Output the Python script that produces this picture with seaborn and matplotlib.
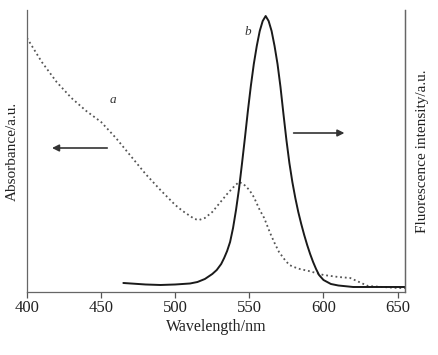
import numpy as np
import pandas as pd
import seaborn as sns
import matplotlib.pyplot as plt

# absorbance (curve a), arbitrary units
abs_wl = [400, 405, 410, 420, 430, 440, 450, 460, 470, 480, 490, 500, 505, 510, 513, 516, 520,
          525, 530, 535, 540, 543, 546, 550, 553, 557, 560, 564, 567, 570, 574, 577, 580,
          584, 590, 600, 610, 618, 624, 630, 640, 650, 655]
abs_val = [254, 242, 230, 210, 194, 181, 170, 154, 136, 118, 102, 87, 81, 76, 73, 72, 74,
           80, 89, 98, 106, 110, 108, 102, 95, 82, 74, 59, 49, 40, 32, 27, 25,
           23, 21, 17, 15, 14, 10, 6, 5, 4, 4]

# fluorescence (curve b), arbitrary units
fl_wl = [465, 470, 480, 490, 500, 510, 515, 520, 525, 528, 531, 533, 535, 537, 539, 541,
         543, 545, 547, 549, 551, 553, 555, 557, 559, 561, 563, 565, 567, 569, 571, 573,
         575, 577, 579, 581, 583, 585, 587, 589, 591, 593, 595, 597, 600, 605, 610, 620, 655]
fl_val = [9, 8.5, 7.5, 7, 7.5, 8.5, 10, 13, 18, 22, 28, 34, 41, 50, 64, 82,
          103, 128, 154, 181, 206, 228, 246, 261, 271, 276, 271, 261, 246, 228, 205, 178,
          152, 129, 110, 94, 80, 68, 57, 47, 38, 30, 23, 17, 12, 8, 6.5, 5, 5]

x_ticks = [400, 450, 500, 550, 600, 650]

df_a = pd.DataFrame({"wl": abs_wl, "val": abs_val})
df_b = pd.DataFrame({"wl": fl_wl, "val": fl_val})

sns.set_style("white")
plt.rcParams['font.family'] = ['Liberation Serif', 'DejaVu Serif']

fig = plt.figure(figsize=(4.38, 3.55), dpi=100)
ax = fig.add_axes([0.0616, 0.1775, 0.8631, 0.7943])

sns.lineplot(data=df_a, x="wl", y="val", ax=ax, color="#555555", linestyle=(0, (1, 1.6)),
             linewidth=1.3)
sns.lineplot(data=df_b, x="wl", y="val", ax=ax, color="#1a1a1a", linewidth=1.4)

ax.set_xlim(400, 655)
ax.set_ylim(0, 282)
ax.set_xticks(x_ticks)
ax.set_yticks([])
ax.tick_params(axis="x", direction="out", length=4, width=0.9, color="#555555",
               labelsize=12, labelcolor="#222222", pad=2, bottom=True)
ax.set_xlabel("Wavelength/nm", fontsize=11.5, color="#222222", labelpad=2)
ax.set_ylabel("Absorbance/a.u.", fontsize=11, color="#222222", labelpad=6)

for side in ["left", "right", "bottom"]:
    ax.spines[side].set_visible(True)
    ax.spines[side].set_color("#666666")
    ax.spines[side].set_linewidth(0.9)
ax.spines["top"].set_visible(False)

ax2 = ax.twinx()
ax2.set_ylim(0, 282)
ax2.set_yticks([])
ax2.spines["top"].set_visible(False)
ax2.spines["left"].set_visible(False)
ax2.spines["bottom"].set_visible(False)
ax2.spines["right"].set_color("#666666")
ax2.spines["right"].set_linewidth(0.9)
ax2.set_ylabel("Fluorescence intensity/a.u.", fontsize=11, color="#222222", labelpad=8)

# curve labels and arrows
ax.text(458, 192, "a", fontstyle="italic", fontsize=9.5, color="#333333", ha="center", va="center")
ax.text(549, 260, "b", fontstyle="italic", fontsize=9.5, color="#333333", ha="center", va="center")
ax.annotate("", xy=(415, 144), xytext=(456, 144),
            arrowprops=dict(arrowstyle="-|>", color="#333333", lw=1.2, mutation_scale=10))
ax.annotate("", xy=(616, 159), xytext=(578, 159),
            arrowprops=dict(arrowstyle="-|>", color="#333333", lw=1.2, mutation_scale=10))

fig.savefig("out.png", dpi=100)
